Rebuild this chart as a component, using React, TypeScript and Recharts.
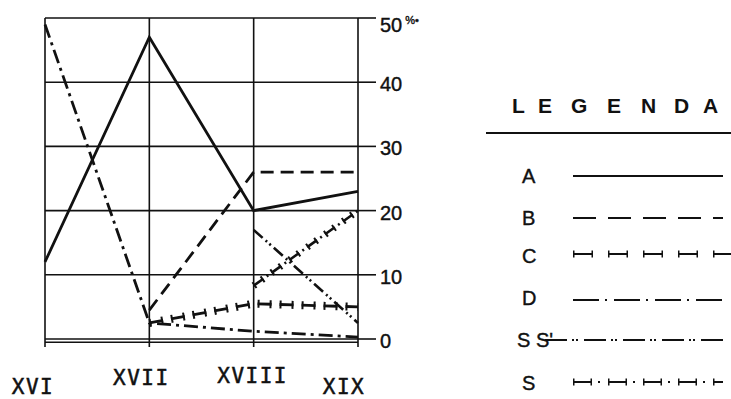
import React from 'react';
import { LineChart, Line, XAxis, YAxis, CartesianGrid, ReferenceLine } from 'recharts';

// centuries on the x axis
const centuries = ['XVI', 'XVII', 'XVIII', 'XIX'];

// percentages (null = no value drawn)
const seriesA = [12, 47, 20, 23];
const seriesB = [null, 4.5, 26, 26];
const seriesC = [null, 2.5, 5.5, 5];
const seriesD = [49, 2.5, 1.2, 0.3];
const seriesSS = [null, null, 17, 2.5];
const seriesS = [null, null, 8.3, 20];

const yTicks = [0, 10, 20, 30, 40, 50];

const legendTitle = ['L', 'E', 'G', 'E', 'N', 'D', 'A'];
const legendRows = ['A', 'B', 'C', 'D', "S S'", 'S'];

const data = centuries.map((c, i) => ({
  century: c,
  A: seriesA[i],
  B: seriesB[i],
  C: seriesC[i],
  D: seriesD[i],
  SS: seriesSS[i],
  S: seriesS[i],
}));

const ink = '#111';

// the scan has the century labels staggered up and down
const xLabelShift: Record<string, [number, number]> = {
  XVI: [-12, 45],
  XVII: [-8, 36],
  XVIII: [-1, 34],
  XIX: [-14, 45],
};

const XTick = (props: any) => {
  const { x, y, payload } = props;
  const [dx, dy] = xLabelShift[payload.value] || [0, 36];
  return (
    <text
      x={x + dx}
      y={y + dy}
      textAnchor="middle"
      fontFamily="'DejaVu Sans Mono', monospace"
      fontSize={21}
      letterSpacing={1.5}
      fill={ink}
      stroke={ink}
      strokeWidth={0.5}
    >
      {payload.value}
    </text>
  );
};

const YTick = (props: any) => {
  const { x, y, payload } = props;
  const top = payload.value === 50;
  return (
    <text
      x={x + 2}
      y={y + (top ? 14 : 9)}
      textAnchor="start"
      fontFamily="'Liberation Sans', sans-serif"
      fontSize={20}
      fill={ink}
      stroke={ink}
      strokeWidth={0.4}
    >
      {payload.value}
      {top ? <tspan fontSize={11} dy={-8} dx={3}>%•</tspan> : null}
    </text>
  );
};

function Legend() {
  const x1 = 573;
  const x2 = 723;
  const rowY = [176, 218, 254, 300, 340, 382];
  const baseY = [183, 225, 263, 305, 347, 390];
  const titleX = [512, 538, 571, 607, 641, 674, 703];
  return (
    <svg width={731} height={399} style={{ position: 'absolute', left: 0, top: 0 }}>
      {legendTitle.map((ch, i) => (
        <text
          key={i}
          x={titleX[i]}
          y={113}
          fontFamily="'Liberation Sans', sans-serif"
          fontWeight="bold"
          fontSize={21}
          fill={ink}
        >
          {ch}
        </text>
      ))}
      <line x1={486} y1={133} x2={731} y2={133} stroke={ink} strokeWidth={1.8} />
      {legendRows.map((label, i) => (
        <text
          key={label}
          x={label.length > 1 ? 517 : 522}
          y={baseY[i]}
          fontFamily="'Liberation Sans', sans-serif"
          fontSize={20}
          fill={ink}
          stroke={ink}
          strokeWidth={0.4}
        >
          {label}
        </text>
      ))}
      <line x1={x1} y1={rowY[0]} x2={x2} y2={rowY[0]} stroke={ink} strokeWidth={2} />
      <line x1={x1} y1={rowY[1]} x2={x2} y2={rowY[1]} stroke={ink} strokeWidth={2} strokeDasharray="23 12" />
      <line x1={x1} y1={rowY[2]} x2={731} y2={rowY[2]} stroke={ink} strokeWidth={2} strokeDasharray="20 15" />
      <line x1={x1} y1={rowY[2]} x2={731} y2={rowY[2]} stroke={ink} strokeWidth={7} strokeDasharray="1.5 17 1.5 15" />
      <line x1={x1} y1={rowY[3]} x2={x2} y2={rowY[3]} stroke={ink} strokeWidth={2} strokeDasharray="26 6 2 7" />
      <line x1={545} y1={rowY[4]} x2={x2} y2={rowY[4]} stroke={ink} strokeWidth={2} strokeDasharray="22 5 2 2 2 6" />
      <line x1={x1} y1={rowY[5]} x2={x2} y2={rowY[5]} stroke={ink} strokeWidth={2} strokeDasharray="19 6 2 8" />
      <line x1={x1} y1={rowY[5]} x2={x2} y2={rowY[5]} stroke={ink} strokeWidth={7} strokeDasharray="1.5 16 1.5 16" />
    </svg>
  );
}

export default function App() {
  return (
    <div style={{ position: 'fixed', left: 0, top: 0, width: 731, height: 399, background: '#fff' }}>
      <LineChart
        width={731}
        height={399}
        data={data}
        margin={{ top: 18, right: 328, bottom: 10, left: 45 }}
      >
        <CartesianGrid stroke={ink} strokeWidth={1.6} />
        <XAxis
          dataKey="century"
          padding={{ left: 0, right: 0 }}
          axisLine={false}
          tickLine={{ stroke: ink, strokeWidth: 1.6 }}
          tickSize={8}
          height={50}
          tick={<XTick />}
          interval={0}
        />
        <YAxis
          orientation="right"
          domain={[0, 50]}
          ticks={yTicks}
          axisLine={false}
          tickLine={{ stroke: ink, strokeWidth: 1.6 }}
          tickSize={18}
          width={45}
          tick={<YTick />}
        />
        <ReferenceLine y={-0.5} stroke={ink} strokeWidth={1.6} ifOverflow="visible" />
        <Line dataKey="A" stroke={ink} strokeWidth={2.8} dot={false} isAnimationActive={false} />
        <Line dataKey="B" stroke={ink} strokeWidth={2.8} strokeDasharray="13 7" dot={false} isAnimationActive={false} />
        <Line dataKey="C" stroke={ink} strokeWidth={2.8} strokeDasharray="14 8" dot={false} isAnimationActive={false} />
        <Line dataKey="C" stroke={ink} strokeWidth={8} strokeDasharray="2 10 2 8" dot={false} isAnimationActive={false} legendType="none" />
        <Line dataKey="D" stroke={ink} strokeWidth={2.8} strokeDasharray="14 5 3 5" dot={false} isAnimationActive={false} />
        <Line dataKey="SS" stroke={ink} strokeWidth={2.6} strokeDasharray="12 4 2 3 2 4" dot={false} isAnimationActive={false} />
        <Line dataKey="S" stroke={ink} strokeWidth={2.6} strokeDasharray="12 4 2 4" dot={false} isAnimationActive={false} />
        <Line dataKey="S" stroke={ink} strokeWidth={7} strokeDasharray="2 8 2 10" dot={false} isAnimationActive={false} legendType="none" />
      </LineChart>
      <Legend />
    </div>
  );
}
